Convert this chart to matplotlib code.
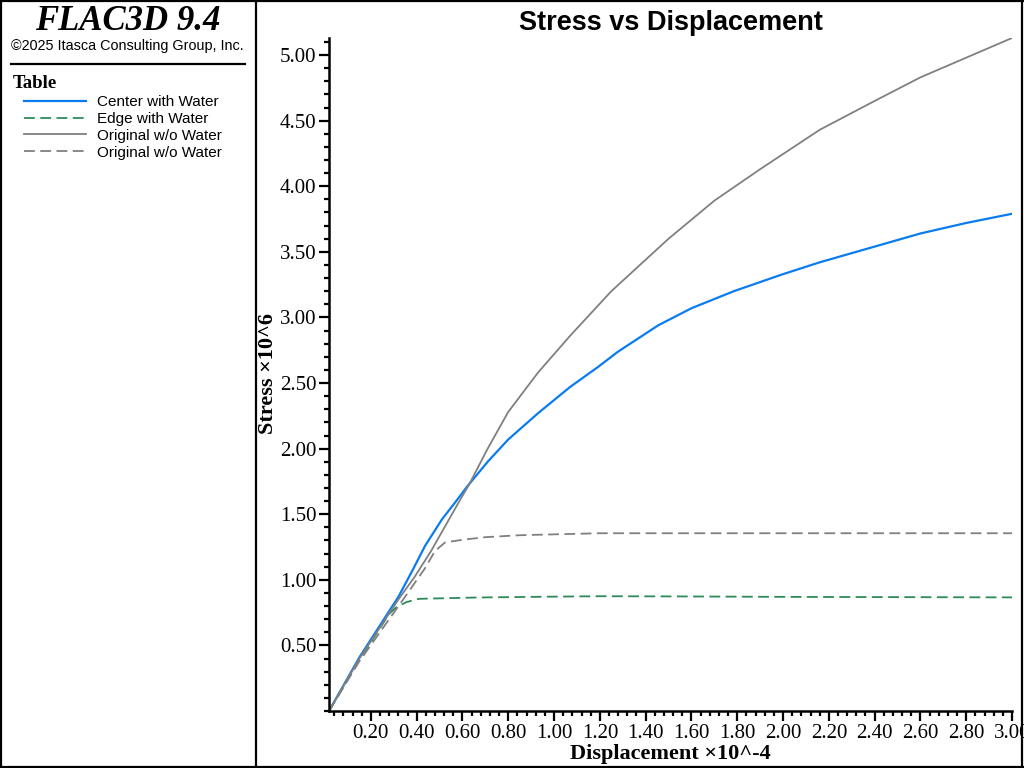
import matplotlib
matplotlib.use('Agg')
import matplotlib.pyplot as plt
from matplotlib.lines import Line2D
from matplotlib.ticker import MultipleLocator, FormatStrFormatter

# displacement (x10^-4) and stress (x10^6)
center_x = [0.017, 0.15, 0.32, 0.378, 0.437, 0.51, 0.568, 0.62, 0.71,
            0.80, 0.93, 1.07, 1.19, 1.28, 1.455, 1.60, 1.785, 2.00, 2.16,
            2.40, 2.60, 2.80, 3.00]
center_y = [0.0, 0.41, 0.87, 1.06, 1.26, 1.46, 1.59, 1.71, 1.90,
            2.07, 2.27, 2.47, 2.62, 2.74, 2.94, 3.07, 3.20, 3.33, 3.42,
            3.54, 3.64, 3.72, 3.79]

edge_x = [0.017, 0.15, 0.28, 0.31, 0.355, 0.41, 0.66, 0.90, 1.20, 1.60, 2.00,
          2.50, 3.00]
edge_y = [0.0, 0.39, 0.74, 0.79, 0.83, 0.855, 0.865, 0.870, 0.875, 0.873,
          0.870, 0.868, 0.866]

orig_x = [0.017, 0.15, 0.32, 0.39, 0.463, 0.58, 0.63, 0.71, 0.80, 0.93, 1.07,
          1.25, 1.40, 1.50, 1.70, 1.90, 2.16, 2.40, 2.60, 2.80, 3.00]
orig_y = [0.0, 0.40, 0.85, 1.02, 1.22, 1.58, 1.73, 2.00, 2.28, 2.58, 2.86,
          3.20, 3.44, 3.60, 3.89, 4.13, 4.43, 4.65, 4.83, 4.98, 5.13]

orig_d_x = [0.017, 0.15, 0.347, 0.437, 0.48, 0.524, 0.60, 0.70,
            0.85, 1.20, 1.60, 2.00, 2.50, 3.00]
orig_d_y = [0.0, 0.38, 0.865, 1.09, 1.22, 1.285, 1.305, 1.325,
            1.34, 1.355, 1.355, 1.355, 1.355, 1.355]

labels = ['Center with Water', 'Edge with Water',
          'Original w/o Water', 'Original w/o Water']

serif = 'Liberation Serif'
sans = 'Liberation Sans'

fig = plt.figure(figsize=(10.24, 7.68), dpi=100)
fig.patch.set_facecolor('white')

W, H = 1024.0, 768.0


def fx(px):
    return px / W


def fy(py):
    return 1 - py / H


# frame and divider
for (x0, y0, x1, y1) in [(1, 1, 1023, 1), (1, 767, 1023, 767), (1, 1, 1, 767),
                         (1022, 1, 1022, 767), (256, 1, 256, 767)]:
    fig.add_artist(Line2D([fx(x0), fx(x1)], [fy(y0), fy(y1)], color='black',
                          lw=1.6, transform=fig.transFigure, zorder=10))

fig.text(fx(128), fy(21), 'FLAC3D 9.4', fontsize=25, fontweight='bold',
         fontstyle='italic', family=serif, ha='center', va='center')
fig.text(fx(127), fy(46), '\u00a92025 Itasca Consulting Group, Inc.',
         fontsize=10.4, family=sans, ha='center', va='center')
fig.add_artist(Line2D([fx(11), fx(245)], [fy(64), fy(64)], color='black',
                      lw=1.6, transform=fig.transFigure))
fig.text(fx(13), fy(83), 'Table', fontsize=13.5, fontweight='bold',
         family=serif, ha='left', va='center')

ax = fig.add_axes([fx(329), fy(711), fx(1012) - fx(329), fy(38) - fy(711)])

l1, = ax.plot(center_x, center_y, color='#0a7cf0', lw=1.6)
l2, = ax.plot(edge_x, edge_y, color='#2e8b57', lw=1.3, dashes=(6, 3))
l3, = ax.plot(orig_x, orig_y, color='#808080', lw=1.3)
l4, = ax.plot(orig_d_x, orig_d_y, color='#808080', lw=1.3, dashes=(6, 3))

ax.set_xlim(0.017, 3.0)
ax.set_ylim(0, 5.13)
ax.xaxis.set_major_locator(MultipleLocator(0.2))
ax.xaxis.set_minor_locator(MultipleLocator(0.04))
ax.yaxis.set_major_locator(MultipleLocator(0.5))
ax.yaxis.set_minor_locator(MultipleLocator(0.1))
ax.xaxis.set_major_formatter(FormatStrFormatter('%.2f'))
ax.yaxis.set_major_formatter(FormatStrFormatter('%.2f'))
ax.set_yticks([0.5, 1.0, 1.5, 2.0, 2.5, 3.0, 3.5, 4.0, 4.5, 5.0])

for s in ['top', 'right']:
    ax.spines[s].set_visible(False)
for s in ['left', 'bottom']:
    ax.spines[s].set_linewidth(1.8)

ax.tick_params(which='major', direction='out', length=7, width=1.6,
               labelsize=15, pad=2)
ax.tick_params(which='minor', direction='out', length=3.5, width=1.6)
for lab in ax.get_xticklabels() + ax.get_yticklabels():
    lab.set_family(serif)

fig.text(fx(671), fy(23), 'Stress vs Displacement', fontsize=19.5,
         fontweight='bold', family=sans, ha='center', va='center')
ax.set_xlabel('Displacement \u00d710^-4', fontsize=16, fontweight='bold',
              family=serif)
ax.set_ylabel('Stress \u00d710^6', fontsize=16, fontweight='bold',
              family=serif)
ax.xaxis.set_label_coords((670 - 329) / (1012 - 329), -(744 - 711) / (711 - 38))
ax.yaxis.set_label_coords(-(329 - 278) / (1012 - 329), (711 - 374) / (711 - 38))

fig.legend([l1, l2, l3, l4], labels, loc='upper left',
           bbox_to_anchor=(fx(24), fy(95)), frameon=False,
           prop={'family': sans, 'size': 11}, handlelength=4.05,
           handletextpad=0.72, labelspacing=0.19, borderaxespad=0,
           borderpad=0)

fig.savefig('out.png', dpi=100)
